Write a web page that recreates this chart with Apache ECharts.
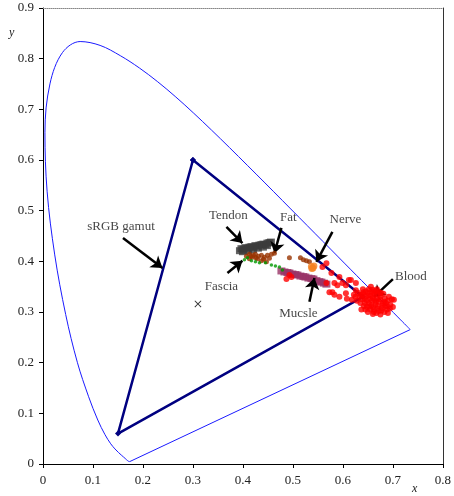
<!DOCTYPE html>
<html><head><meta charset="utf-8">
<script src="https://cdn.jsdelivr.net/npm/echarts@6/dist/echarts.min.js"></script>
<style>html,body{margin:0;padding:0;background:#fff}#c{width:454px;height:496px}</style>
</head><body><div id="c"></div>
<script>
// CIE 1931 spectral locus (x, y), 380-700 nm
const locus = [[0.1741,0.0050],[0.1740,0.0050],[0.1738,0.0049],[0.1736,0.0049],[0.1733,0.0048],[0.1730,0.0048],[0.1726,0.0048],[0.1721,0.0048],[0.1714,0.0051],[0.1703,0.0058],[0.1689,0.0069],[0.1669,0.0086],[0.1644,0.0109],[0.1611,0.0138],[0.1566,0.0177],[0.1510,0.0227],[0.1440,0.0297],[0.1355,0.0399],[0.1241,0.0578],[0.1096,0.0868],[0.0913,0.1327],[0.0687,0.2007],[0.0454,0.2950],[0.0235,0.4127],[0.0082,0.5384],[0.0039,0.6548],[0.0139,0.7502],[0.0389,0.8120],[0.0743,0.8338],[0.1142,0.8262],[0.1547,0.8059],[0.1929,0.7816],[0.2296,0.7543],[0.2658,0.7243],[0.3016,0.6923],[0.3373,0.6589],[0.3731,0.6245],[0.4087,0.5896],[0.4441,0.5547],[0.4788,0.5202],[0.5125,0.4866],[0.5448,0.4544],[0.5752,0.4242],[0.6029,0.3965],[0.6270,0.3725],[0.6482,0.3514],[0.6658,0.3340],[0.6801,0.3197],[0.6915,0.3083],[0.7006,0.2993],[0.7079,0.2920],[0.7140,0.2859],[0.7190,0.2809],[0.7230,0.2770],[0.7260,0.2740],[0.7283,0.2717],[0.7300,0.2700],[0.7311,0.2689],[0.7320,0.2680],[0.7327,0.2673],[0.7334,0.2666],[0.7340,0.2660],[0.7344,0.2656],[0.7346,0.2654],[0.7347,0.2653]];
// line of purples (700 nm back to 380 nm)
const purpleLine = [[0.7347,0.2653],[0.1741,0.0050]];
// sRGB gamut triangle G, R, B, G
const gamut = [[0.30,0.60],[0.64,0.33],[0.15,0.06],[0.30,0.60]];
const whitePoint = [[0.31,0.316]];
const tendon = [[0.394,0.421],[0.397,0.425],[0.401,0.424],[0.405,0.427],[0.409,0.426],[0.413,0.428],[0.417,0.429],[0.421,0.428],[0.425,0.431],[0.429,0.430],[0.433,0.432],[0.437,0.433],[0.441,0.434],[0.445,0.433],[0.449,0.436],[0.453,0.437],[0.456,0.438],[0.400,0.419],[0.410,0.421],[0.420,0.423],[0.430,0.426],[0.440,0.428],[0.448,0.431]];
const fat = [[0.413,0.414],[0.419,0.408],[0.425,0.414],[0.429,0.405],[0.437,0.412],[0.443,0.408],[0.449,0.412],[0.457,0.414],[0.463,0.416],[0.437,0.401],[0.447,0.399],[0.413,0.405],[0.407,0.410],[0.453,0.406],[0.431,0.410],[0.421,0.412],[0.416,0.410],[0.426,0.407],[0.441,0.404],[0.493,0.407],[0.515,0.407],[0.521,0.403],[0.527,0.401],[0.533,0.399]];
const fascia = [[0.403,0.403],[0.409,0.407],[0.417,0.401],[0.425,0.399],[0.433,0.397],[0.445,0.397],[0.457,0.393],[0.465,0.391],[0.473,0.389],[0.479,0.383]];
const muscle = [[0.477,0.381],[0.483,0.379],[0.489,0.378],[0.493,0.377],[0.499,0.375],[0.505,0.374],[0.509,0.373],[0.515,0.371],[0.521,0.370],[0.525,0.369],[0.531,0.367],[0.537,0.366],[0.541,0.365],[0.547,0.362],[0.553,0.360],[0.557,0.359],[0.562,0.357],[0.567,0.355]];
const nerve = [[0.537,0.390],[0.540,0.387],[0.542,0.391],[0.538,0.386]];
const blood = [[0.493,0.373],[0.487,0.365],[0.497,0.369],[0.559,0.389],[0.567,0.396],[0.567,0.357],[0.577,0.377],[0.583,0.357],[0.593,0.369],[0.599,0.357],[0.606,0.353],[0.616,0.363],[0.626,0.357],[0.573,0.339],[0.583,0.334],[0.593,0.330],[0.606,0.337],[0.608,0.326],[0.622,0.334],[0.626,0.343],[0.589,0.353],[0.579,0.339],[0.618,0.324],[0.612,0.363],[0.702,0.324],
[0.640,0.335],[0.645,0.330],[0.650,0.338],[0.655,0.332],[0.660,0.328],[0.648,0.322],[0.652,0.318],[0.658,0.322],[0.663,0.335],[0.668,0.326],[0.672,0.320],[0.665,0.315],[0.660,0.310],[0.655,0.305],[0.670,0.312],[0.675,0.330],[0.680,0.318],[0.678,0.308],[0.685,0.312],[0.690,0.322],[0.638,0.325],[0.635,0.318],[0.642,0.312],[0.646,0.341],[0.652,0.345],[0.658,0.340],[0.665,0.342],[0.633,0.330],[0.628,0.322],[0.645,0.305],[0.650,0.300],[0.662,0.300],[0.672,0.302],[0.683,0.300],[0.688,0.305],[0.695,0.315],[0.698,0.325],[0.692,0.330],[0.684,0.326],[0.676,0.338],[0.668,0.345],[0.656,0.350],[0.640,0.345],[0.630,0.338],[0.625,0.330],[0.637,0.305],[0.660,0.296],[0.675,0.295],[0.690,0.298],[0.700,0.310],[0.681,0.336],[0.666,0.320],[0.654,0.326],[0.644,0.318],[0.670,0.335],[0.686,0.318],[0.662,0.305],[0.648,0.310],
[0.643,0.326],[0.651,0.333],[0.657,0.314],[0.663,0.324],[0.669,0.307],[0.674,0.325],[0.679,0.313],[0.683,0.320],[0.661,0.338],[0.653,0.311],[0.667,0.298],[0.689,0.311],[0.636,0.334],[0.641,0.339],[0.677,0.303],[0.694,0.307],[0.659,0.344],[0.671,0.340]];
// annotations: label position and arrow start/end
const labelNames = ['sRGB gamut','Tendon','Fat','Nerve','Blood','Fascia','Mucsle'];
const labelPos = [[0.156,0.468],[0.371,0.491],[0.491,0.487],[0.605,0.482],[0.736,0.369],[0.357,0.351],[0.511,0.296]];
const arrowFrom = [[0.160,0.446],[0.367,0.468],[0.477,0.466],[0.579,0.458],[0.700,0.365],[0.369,0.377],[0.533,0.320]];
const arrowTo = [[0.239,0.387],[0.399,0.436],[0.463,0.416],[0.547,0.399],[0.662,0.330],[0.399,0.401],[0.543,0.367]];
const xTicks = [0,0.1,0.2,0.3,0.4,0.5,0.6,0.7,0.8];
const yTicks = [0,0.1,0.2,0.3,0.4,0.5,0.6,0.7,0.8,0.9];

const serif = '"Liberation Serif","DejaVu Serif",serif';
const chart = echarts.init(document.getElementById('c'), null, {renderer:'canvas'});
const axisLabel = {color:'#222', fontFamily:serif, fontSize:13};
chart.setOption({
  animation:false,
  grid:{left:43, right:10, top:8, bottom:32},
  xAxis:[{type:'value', min:0, max:0.8, interval:0.1,
    axisLine:{onZero:false, lineStyle:{color:'#000', width:1}},
    axisTick:{show:true, length:4, lineStyle:{color:'#000'}},
    splitLine:{show:false},
    axisLabel:Object.assign({margin:10, formatter:v=>String(+v.toFixed(1))}, axisLabel)},
   {type:'value', position:'top', min:0, max:0.8, axisLine:{show:true, onZero:false, lineStyle:{color:'#888', type:'dotted'}}, axisTick:{show:false}, axisLabel:{show:false}, splitLine:{show:false}}],
  yAxis:[{type:'value', min:0, max:0.9, interval:0.1,
    axisLine:{show:true, onZero:false, lineStyle:{color:'#000', width:1}},
    axisTick:{show:true, length:4, lineStyle:{color:'#000'}},
    splitLine:{show:false},
    axisLabel:Object.assign({margin:9, formatter:v=>String(+v.toFixed(1))}, axisLabel)},
   {type:'value', position:'right', min:0, max:0.9, axisLine:{show:true, onZero:false, lineStyle:{color:'#333'}}, axisTick:{show:false}, axisLabel:{show:false}, splitLine:{show:false}}],
  graphic:[
    {type:'text', left:9, top:27, style:{text:'y', font:'italic 12px '+serif, fill:'#222'}},
    {type:'text', left:412, top:483, style:{text:'x', font:'italic 12px '+serif, fill:'#222'}}
  ],
  series:[
    {type:'line', data:locus, showSymbol:false, smooth:0.35, lineStyle:{color:'#1a1aff', width:1}, z:2},
    {type:'line', data:purpleLine, showSymbol:false, lineStyle:{color:'#1a1aff', width:1}, z:2},
    {type:'line', data:gamut, symbol:'diamond', symbolSize:6, itemStyle:{color:'#000080'}, lineStyle:{color:'#000080', width:2.5}, z:3},
    {type:'scatter', data:whitePoint, symbol:'path://M0,1L1,0L5,4L9,0L10,1L6,5L10,9L9,10L5,6L1,10L0,9L4,5Z', symbolSize:7, itemStyle:{color:'#000'}, z:4},
    {type:'scatter', data:tendon, symbol:'rect', symbolSize:[8,7], itemStyle:{color:'#3c3c3c'}, z:4},
    {type:'scatter', data:fat, symbol:'circle', symbolSize:5, itemStyle:{color:'#993300'}, z:5},
    {type:'scatter', data:fascia, symbol:'circle', symbolSize:3.5, itemStyle:{color:'#009900'}, z:5},
    {type:'scatter', data:muscle, symbol:'rect', symbolSize:[8,7], itemStyle:{color:'#993366'}, z:4},
    {type:'scatter', data:blood, symbol:'circle', symbolSize:6, itemStyle:{color:'#ff0000'}, z:5},
    {type:'scatter', data:nerve, symbol:'circle', symbolSize:7, itemStyle:{color:'#f58220'}, z:6},
    {type:'scatter', data:labelPos.map((p,i)=>[p[0],p[1],labelNames[i]]), symbolSize:1, itemStyle:{color:'rgba(0,0,0,0)'},
      label:{show:true, position:'inside', formatter:p=>p.data[2], color:'#111', fontFamily:serif, fontSize:13},
      markLine:{silent:true, symbol:['none','arrow'], symbolSize:11, label:{show:false},
        lineStyle:{color:'#000', width:2.5, type:'solid'},
        data:arrowFrom.map((a,i)=>[{coord:a},{coord:arrowTo[i]}])}, z:7}
  ]
});
</script></body></html>
